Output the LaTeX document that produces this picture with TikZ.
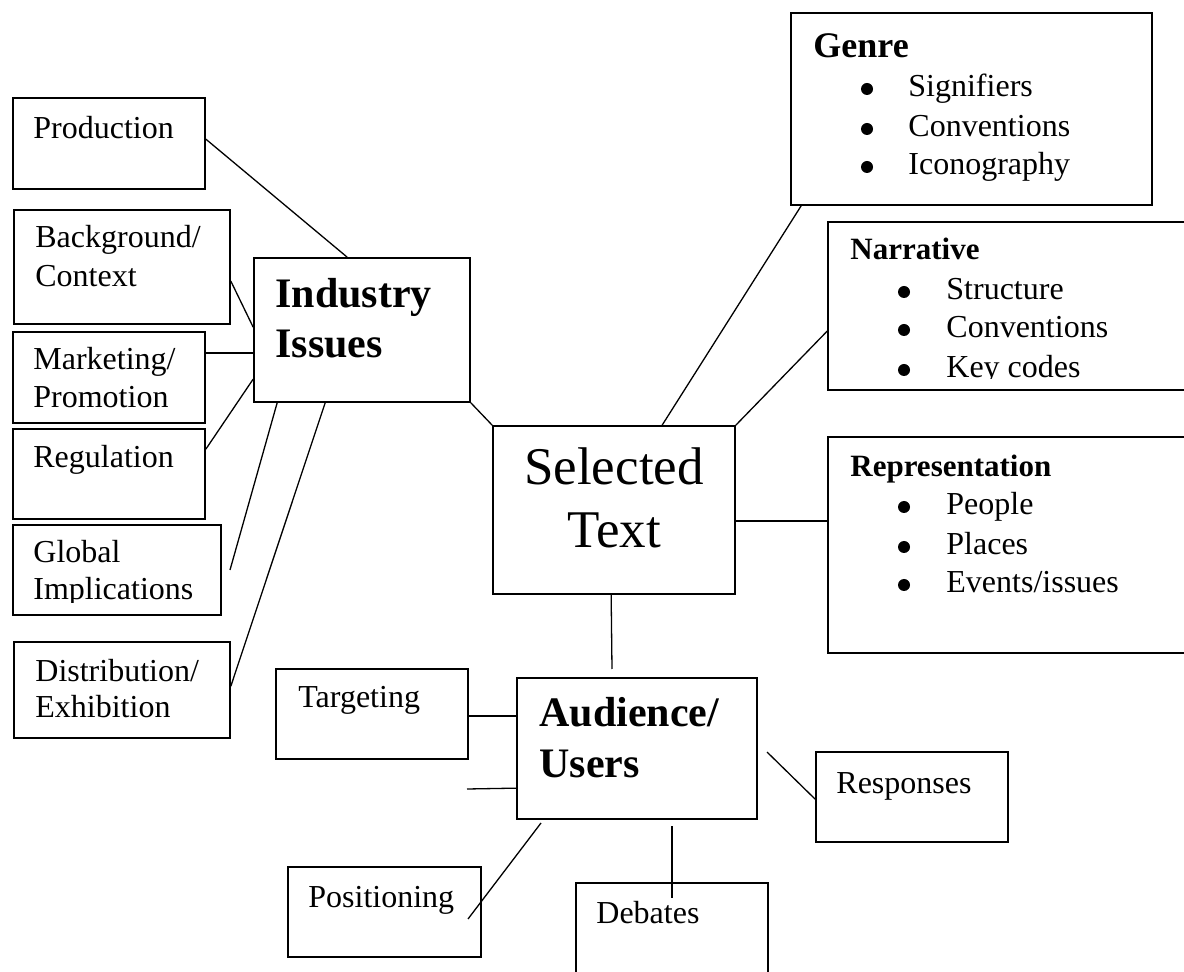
\documentclass[tikz,border=0pt]{standalone}
\usepackage{fontspec}
\setmainfont{Liberation Serif}
\usetikzlibrary{fit}
\tikzset{
  box/.style={draw, line width=0.85pt, inner sep=0pt, fit={#1}},
  conn/.style={line width=0.65pt},
  dot/.style={fill=black},
  lbl/.style={anchor=base west, inner sep=0pt, font=\fontsize{16}{19}\selectfont},
  bigb/.style={anchor=base west, inner sep=0pt, font=\fontsize{21}{25}\selectfont\bfseries},
  genreb/.style={anchor=base west, inner sep=0pt, font=\fontsize{18}{21}\selectfont\bfseries},
  subb/.style={anchor=base west, inner sep=0pt, font=\fontsize{15.5}{19}\selectfont\bfseries},
  huge/.style={anchor=base, inner sep=0pt, font=\fontsize{26.5}{31.5}\selectfont}
}
\begin{document}
\begin{tikzpicture}[x=0.5pt, y=-0.5pt]
\useasboundingbox (0,0) rectangle (1184,972);
% boxes
\node[box={(13,98) (205,189)}] (prod) {};
\node[box={(14,210) (230,324)}] (bg) {};
\node[box={(13,332) (205,423)}] (mkt) {};
\node[box={(13,429) (205,519)}] (reg) {};
\node[box={(13,525) (221,615)}] (glob) {};
\node[box={(14,642) (230,738)}] (dist) {};
\node[box={(254,258) (470,402)}] (ind) {};
\node[box={(791,13) (1152,205)}] (genre) {};
\node[box={(828,222) (1200,390)}] (narr) {};
\node[box={(828,437) (1200,653)}] (rep) {};
\node[box={(493,426) (735,594)}] (sel) {};
\node[box={(276,669) (468,759)}] (targ) {};
\node[box={(517,678) (757,819)}] (aud) {};
\node[box={(816,752) (1008,842)}] (resp) {};
\node[box={(288,867) (481,957)}] (pos) {};
\node[box={(576,883) (768,1000)}] (deb) {};
% texts
\node[lbl] (tprod) at (33,139) {Production};
\node[lbl] (tbg1) at (35,248) {Background/};
\node[lbl] (tbg2) at (35,287) {Context};
\node[lbl] (tmkt1) at (33,370) {Marketing/};
\node[lbl] (tmkt2) at (33,408) {Promotion};
\node[lbl] (treg) at (33,468) {Regulation};
\node[lbl] (tglob1) at (33,563) {Global};
\begin{scope}
  \clip (0,570) rectangle (300,603);
  \node[lbl] (tglob2) at (33,600) {Implications};
\end{scope}
\node[lbl] (tdist1) at (35,682) {Distribution/};
\node[lbl] (tdist2) at (35,718) {Exhibition};
\node[bigb] (tind1) at (275,308) {Industry};
\node[bigb] (tind2) at (275,358) {Issues};
% Genre list
\node[genreb] (tgenre) at (813,58) {Genre};
\node[lbl] (tg1) at (908,97) {Signifiers};
\node[lbl] (tg2) at (908,137) {Conventions};
\node[lbl] (tg3) at (908,175) {Iconography};
\foreach \yy in {89,129,167} \fill[dot] (867,\yy) circle (6);
% Narrative list
\node[subb] (tnarr) at (850,260) {Narrative};
\node[lbl] (tn1) at (946,300) {Structure};
\node[lbl] (tn2) at (946,338) {Conventions};
\begin{scope}
  \clip (830,340) rectangle (1184,379);
  \node[lbl] (tn3) at (946,378) {Key codes};
\end{scope}
\foreach \yy in {292,330,370} \fill[dot] (904,\yy) circle (6);
% Representation list
\node[subb] (trep) at (850,477) {Representation};
\node[lbl] (tr1) at (946,515) {People};
\node[lbl] (tr2) at (946,555) {Places};
\node[lbl] (tr3) at (946,593) {Events/issues};
\foreach \yy in {507,547,585} \fill[dot] (904,\yy) circle (6);
% centre
\node[huge] (tsel1) at (614,485) {Selected};
\node[huge] (tsel2) at (614,548) {Text};
\node[lbl] (ttarg) at (298,708) {Targeting};
\node[bigb] (taud1) at (539,727) {Audience/};
\node[bigb] (taud2) at (539,777) {Users};
\node[lbl] (tresp) at (836,793) {Responses};
\node[lbl] (tpos) at (308,907) {Positioning};
\node[lbl] (tdeb) at (596,923) {Debates};
% free ends
\coordinate (globend) at (230,570);
\coordinate (selend) at (612,669);
\coordinate (lfree) at (467,789);
\coordinate (pos1) at (541,823);
\coordinate (pos2) at (468,919);
\coordinate (deb1) at (672,826);
\coordinate (deb2) at (672,898);
\coordinate (resp1) at (767,752);
% connectors
\draw[conn] ([shift={(0,42)}]prod.north east) -- ([shift={(94,0)}]ind.north west);
\draw[conn] ([shift={(0,72)}]bg.north east) -- ([shift={(0,70)}]ind.north west);
\draw[conn] ([shift={(0,22)}]mkt.north east) -- ([shift={(0,96)}]ind.north west);
\draw[conn] ([shift={(0,21)}]reg.north east) -- ([shift={(0,122)}]ind.north west);
\draw[conn] ([shift={(24,0)}]ind.south west) -- (globend);
\draw[conn] ([shift={(72,0)}]ind.south west) -- ([shift={(0,45)}]dist.north east);
\draw[conn] (ind.south east) -- (sel.north west);
\draw[conn] ([shift={(11,0)}]genre.south west) -- ([shift={(170,0)}]sel.north west);
\draw[conn] (sel.north east) -- ([shift={(0,110)}]narr.north west);
\draw[conn] ([shift={(0,96)}]sel.north east) -- ([shift={(0,85)}]rep.north west);
\draw[conn] ([shift={(119,0)}]sel.south west) -- (selend);
\draw[conn] ([shift={(0,48)}]targ.north east) -- ([shift={(0,39)}]aud.north west);
\draw[conn] (lfree) -- ([shift={(0,111)}]aud.north west);
\draw[conn] (pos1) -- (pos2);
\draw[conn] (deb1) -- (deb2);
\draw[conn] (resp1) -- ([shift={(0,48)}]resp.north west);
\end{tikzpicture}
\end{document}
